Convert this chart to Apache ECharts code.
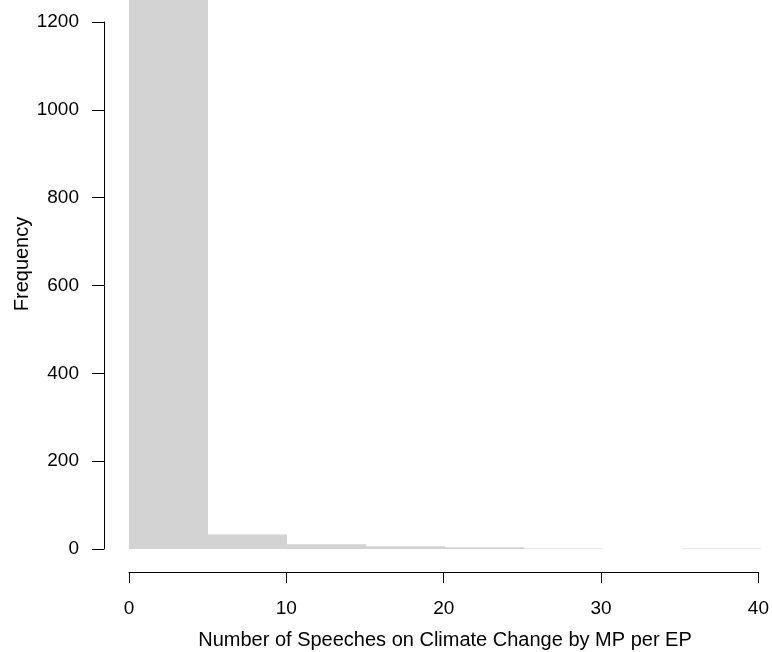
<!DOCTYPE html>
<html>
<head>
<meta charset="utf-8">
<script src="https://cdn.jsdelivr.net/npm/echarts@6/dist/echarts.min.js"></script>
<style>
html,body{margin:0;padding:0;background:#fff;}
#chart{width:772px;height:652px;}
</style>
</head>
<body>
<div id="chart"></div>
<script>
// Histogram bins (breaks every 5) and counts
var binStarts = [0, 5, 10, 15, 20, 25, 30, 35];
var binEnds   = [5, 10, 15, 20, 25, 30, 35, 40];
var counts    = [1400, 33, 11, 6, 4, 1, 0, 1];
var xTicks = [0, 10, 20, 30, 40];
var yTicks = [0, 200, 400, 600, 800, 1000, 1200];

var FONT = '"Liberation Sans", Arial, Helvetica, sans-serif';
var data = binStarts.map(function (s, i) { return [s, binEnds[i], counts[i]]; });

var chart = echarts.init(document.getElementById('chart'), null, {renderer: 'canvas'});
chart.setOption({
  animation: false,
  backgroundColor: '#ffffff',
  grid: [
    {left: 129, right: 11, top: 0, height: 549},
    {left: 104, width: 657, top: 22, height: 527},
    {left: 129, right: 11, top: 0, height: 572}
  ],
  xAxis: [
    {gridIndex: 0, type: 'value', min: 0, max: 40, show: false},
    {gridIndex: 1, type: 'value', min: 0, max: 40, show: false},
    {gridIndex: 2, type: 'value', min: 0, max: 40, interval: 10, position: 'bottom',
      axisLine: {show: true, lineStyle: {color: '#000', width: 1}},
      axisTick: {show: true, length: 11, inside: false, lineStyle: {color: '#000', width: 1}},
      axisLabel: {show: true, fontSize: 19, color: '#000', fontFamily: FONT, margin: 27,
        formatter: function (v) { return xTicks.indexOf(v) >= 0 ? String(v) : ''; }},
      splitLine: {show: false}}
  ],
  yAxis: [
    {gridIndex: 0, type: 'value', min: 0, max: 1250, show: false},
    {gridIndex: 1, type: 'value', min: 0, max: 1200, interval: 200, position: 'left',
      axisLine: {show: true, lineStyle: {color: '#000', width: 1}},
      axisTick: {show: true, length: 12, inside: false, lineStyle: {color: '#000', width: 1}},
      axisLabel: {show: true, fontSize: 19, color: '#000', fontFamily: FONT, margin: 25,
        formatter: function (v) { return yTicks.indexOf(v) >= 0 ? String(v) : ''; }},
      splitLine: {show: false}},
    {gridIndex: 2, type: 'value', min: 0, max: 1, show: false}
  ],
  series: [{
    type: 'custom',
    xAxisIndex: 0,
    yAxisIndex: 0,
    clip: true,
    data: data,
    encode: {x: [0, 1], y: 2},
    renderItem: function (params, api) {
      var p0 = api.coord([api.value(0), 0]);
      var p1 = api.coord([api.value(1), api.value(2)]);
      var rect = echarts.graphic.clipRectByRect({
        x: p0[0], y: p1[1], width: p1[0] - p0[0], height: p0[1] - p1[1]
      }, {
        x: params.coordSys.x, y: params.coordSys.y,
        width: params.coordSys.width, height: params.coordSys.height
      });
      if (!rect) return null;
      return {type: 'rect', shape: rect, style: {fill: '#d3d3d3', stroke: null}};
    }
  }],
  graphic: [
    {type: 'text', x: 445, y: 640,
      style: {text: 'Number of Speeches on Climate Change by MP per EP', fontSize: 20,
        fontFamily: FONT, fill: '#000', textAlign: 'center', textVerticalAlign: 'middle'}},
    {type: 'text', x: 22, y: 264, rotation: Math.PI / 2,
      style: {text: 'Frequency', fontSize: 20, fontFamily: FONT, fill: '#000',
        textAlign: 'center', textVerticalAlign: 'middle'}}
  ]
});
</script>
</body>
</html>
